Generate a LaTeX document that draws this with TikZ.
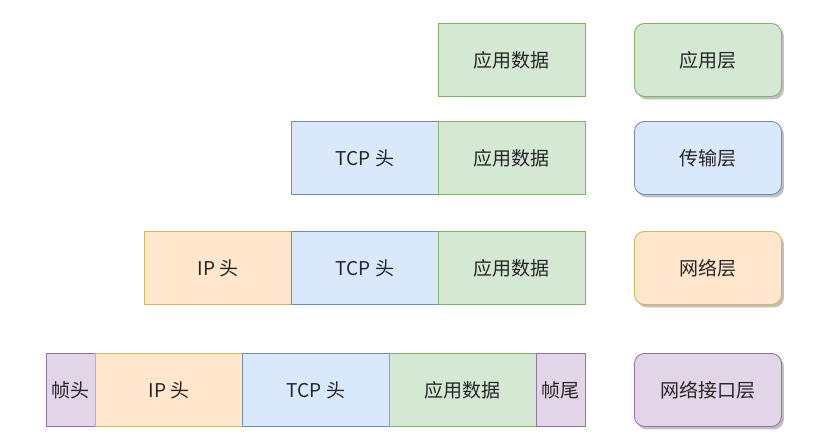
\documentclass[tikz,border=0pt]{standalone}
\usepackage{fontspec}
\setmainfont{Noto Sans CJK SC}
\usetikzlibrary{shadows}
\definecolor{gfill}{HTML}{D5E8D4}\definecolor{gdraw}{HTML}{82B366}
\definecolor{bfill}{HTML}{DAE8FC}\definecolor{bdraw}{HTML}{6C8EBF}
\definecolor{ofill}{HTML}{FFE6CC}\definecolor{odraw}{HTML}{D6B656}
\definecolor{pfill}{HTML}{E1D5E7}\definecolor{pdraw}{HTML}{9673A6}
\begin{document}
\begin{tikzpicture}[x=1pt,y=-1pt,
  cell/.style={draw, line width=0.9pt, minimum height=73pt, inner sep=0pt, text=black!85, font=\fontsize{19}{22}\selectfont, anchor=north west},
  green/.style={cell, fill=gfill, draw=gdraw},
  blue/.style={cell, fill=bfill, draw=bdraw},
  orange/.style={cell, fill=ofill, draw=odraw},
  purple/.style={cell, fill=pfill, draw=pdraw},
  layer/.style={rounded corners=10pt, minimum width=147pt, drop shadow={shadow xshift=2.5pt, shadow yshift=-3pt, fill=black!45, opacity=0.55}}
]
\useasboundingbox (0,0) rectangle (821,447);
% row 1
\node[green, minimum width=147pt] (a1) at (438,23) {应用数据};
\node[green, layer] (l1) at (634,23) {应用层};
% row 2
\node[blue, minimum width=147pt] (t2) at (291,121) {TCP 头};
\node[green, minimum width=147pt] (a2) at (438,121) {应用数据};
\node[blue, layer] (l2) at (634,121) {传输层};
% row 3
\node[orange, minimum width=147pt] (i3) at (144,231) {IP 头};
\node[blue, minimum width=147pt] (t3) at (291,231) {TCP 头};
\node[green, minimum width=147pt] (a3) at (438,231) {应用数据};
\node[orange, layer] (l3) at (634,231) {网络层};
% row 4
\node[purple, minimum width=49pt] (fh) at (46,353) {帧头};
\node[orange, minimum width=147pt] (i4) at (95,353) {IP 头};
\node[blue, minimum width=147pt] (t4) at (242,353) {TCP 头};
\node[green, minimum width=147pt] (a4) at (389,353) {应用数据};
\node[purple, minimum width=49pt] (ft) at (536,353) {帧尾};
\node[purple, layer] (l4) at (634,353) {网络接口层};
\end{tikzpicture}
\end{document}
